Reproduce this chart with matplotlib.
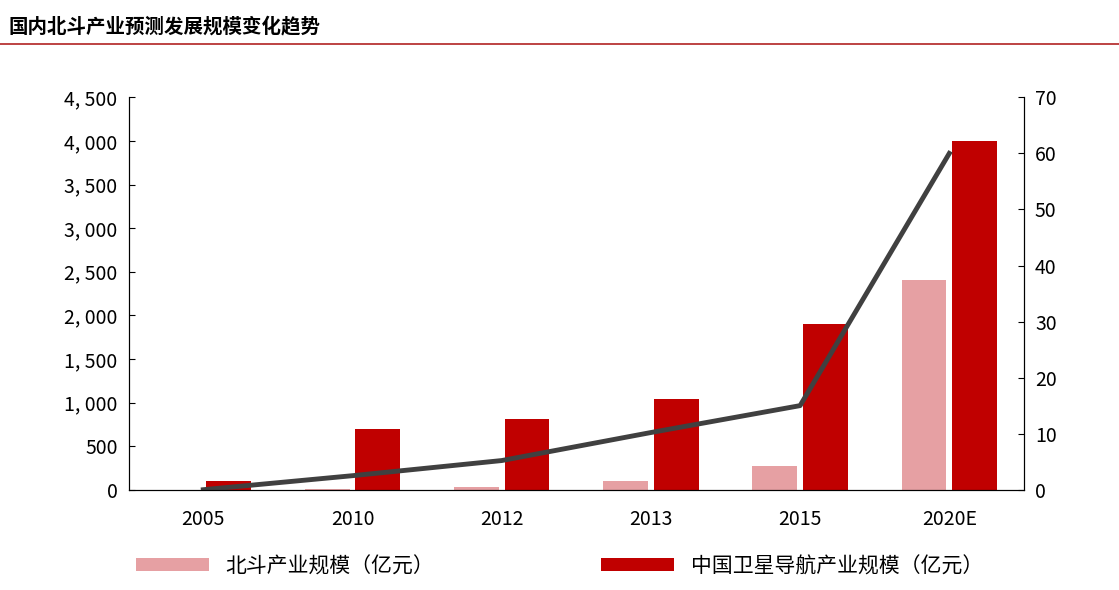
import matplotlib.pyplot as plt
import numpy as np

plt.rcParams['font.family'] = ['Noto Sans CJK SC', 'DejaVu Sans']

years = ["2005", "2010", "2012", "2013", "2015", "2020E"]
beidou = [0, 5, 30, 100, 270, 2400]
gnss = [100, 700, 810, 1040, 1900, 4000]
growth = [0, 2.5, 5.2, 10.2, 15, 60]

fig = plt.figure(figsize=(11.19, 5.9), dpi=100)
fig.text(0.008, 0.955, "国内北斗产业预测发展规模变化趋势", fontsize=14, fontweight="bold", va="center")
fig.add_artist(plt.Line2D([0, 1], [0.925, 0.925], color="#b22222", lw=1.2))

ax = fig.add_axes([0.115, 0.17, 0.8, 0.665])
x = np.arange(len(years))
w = 0.3
ax.bar(x - w / 2 - 0.02, beidou, w, color="#e6a0a3", label="北斗产业规模（亿元）")
ax.bar(x + w / 2 + 0.02, gnss, w, color="#c00000", label="中国卫星导航产业规模（亿元）")
ax.set_ylim(0, 4500)
ax.set_yticks(range(0, 4501, 500))
ax.set_yticklabels([f"{v:,}".replace(",", ", ") for v in range(0, 4501, 500)], fontsize=14)
ax.set_xlim(-0.5, len(years) - 0.5)
ax.set_xticks(x)
ax.set_xticklabels(years, fontsize=14)
ax.spines["top"].set_visible(False)
ax.tick_params(axis="x", length=0, pad=14)
ax.tick_params(axis="y", direction="in", length=4, pad=8)

ax2 = ax.twinx()
ax2.plot(x, growth, color="#404040", lw=3.5)
ax2.set_ylim(0, 70)
ax2.set_yticks(range(0, 71, 10))
ax2.tick_params(axis="y", labelsize=14, direction="in", length=4, pad=8)
ax2.spines["top"].set_visible(False)

fig.legend(loc="lower center", ncol=2, frameon=False, fontsize=15, bbox_to_anchor=(0.5, -0.01),
           handlelength=3.5, handleheight=0.6, columnspacing=8)
fig.savefig("out.png")
